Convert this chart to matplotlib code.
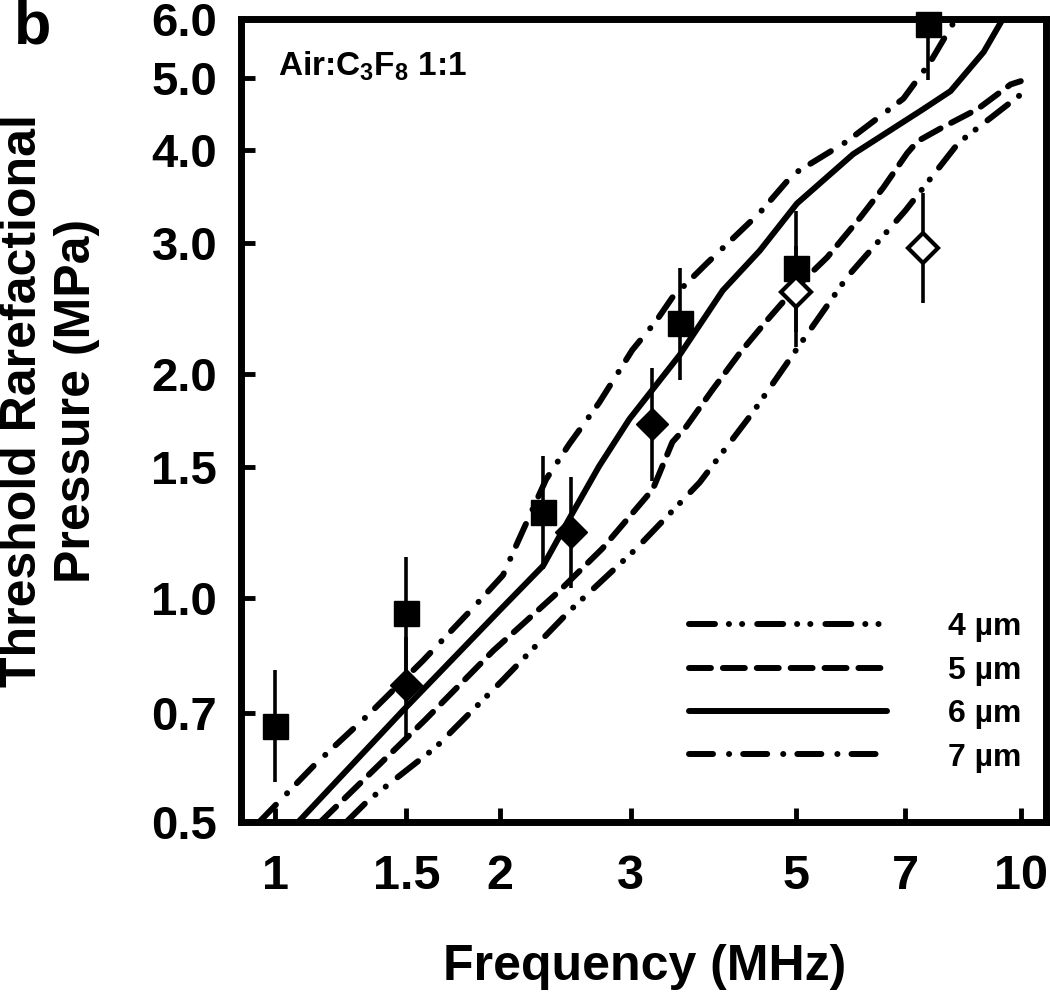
import matplotlib
matplotlib.use("Agg")
import matplotlib.pyplot as plt
from matplotlib.ticker import NullLocator

# --- dados ---
# curvas teóricas (diâmetro da bolha)
freq_4um = [1.246, 1.334, 1.642, 2.02, 2.48, 3.05, 3.71, 4.37, 5.03, 5.85, 7.00, 8.25, 10.0]
p_4um = [0.50, 0.535, 0.630, 0.776, 0.96, 1.165, 1.43, 1.775, 2.175, 2.70, 3.315, 4.09, 4.75]

freq_5um = [1.15, 1.592, 1.96, 2.40, 2.746, 3.21, 3.41, 3.56, 3.86, 4.20, 4.565, 4.95,
            5.50, 6.09, 6.54, 7.04, 7.27, 7.85, 8.75, 9.69, 10.0]
p_5um = [0.50, 0.687, 0.849, 1.02, 1.165, 1.40, 1.62, 1.70, 1.905, 2.135, 2.36, 2.59,
         2.87, 3.245, 3.56, 3.96, 4.11, 4.29, 4.54, 4.90, 4.95]

freq_6um = [1.074, 1.482, 1.995, 2.288, 2.48, 2.72, 2.987, 3.486, 3.984, 4.467, 5.01,
            5.96, 7.40, 8.05, 8.92, 9.46]
p_6um = [0.50, 0.705, 0.96, 1.105, 1.278, 1.504, 1.74, 2.12, 2.59, 2.93, 3.39,
         3.95, 4.54, 4.80, 5.42, 6.0]

freq_7um = [0.952, 1.132, 1.334, 1.577, 1.841, 2.021, 2.124, 2.31, 2.48, 2.72, 3.014,
            3.247, 3.41, 3.79, 4.467, 4.95, 5.85, 6.96, 7.56, 8.18]
p_7um = [0.50, 0.598, 0.697, 0.823, 0.969, 1.073, 1.20, 1.445, 1.61, 1.83, 2.155,
         2.36, 2.535, 2.815, 3.295, 3.71, 4.11, 4.69, 5.25, 6.0]

# pontos experimentais
sq_f = [1.0, 1.5, 2.29, 3.49, 5.0, 7.5]
sq_p = [0.674, 0.954, 1.305, 2.34, 2.78, 5.91]
sq_lo = [0.108, 0.18, 0.21, 0.375, 0.5, 0.94]
sq_hi = [0.126, 0.18, 0.245, 0.44, 0.53, 0.94]

fd_f = [1.5, 2.495, 3.20]
fd_p = [0.765, 1.227, 1.711]
fd_lo = [0.122, 0.197, 0.276]
fd_hi = [0.122, 0.227, 0.329]

od_f = [5.0, 7.40]
od_p = [2.576, 2.958]
od_lo = [0.40, 0.468]
od_hi = [0.40, 0.542]

x_ticks = [1, 1.5, 2, 3, 5, 7, 10]
x_labels = ["1", "1.5", "2", "3", "5", "7", "10"]
y_ticks = [0.5, 0.7, 1.0, 1.5, 2.0, 3.0, 4.0, 5.0, 6.0]
y_labels = ["0.5", "0.7", "1.0", "1.5", "2.0", "3.0", "4.0", "5.0", "6.0"]

# --- estilo ---
plt.rcParams['font.family'] = ['Liberation Sans', 'DejaVu Sans']
plt.rcParams['font.weight'] = 'bold'
plt.rcParams['lines.scale_dashes'] = False
plt.rcParams['mathtext.fontset'] = 'custom'
plt.rcParams['mathtext.rm'] = 'Liberation Sans:bold'
plt.rcParams['mathtext.it'] = 'Liberation Sans:bold'
plt.rcParams['mathtext.default'] = 'rm'

fig = plt.figure(figsize=(10.5, 9.94), dpi=100)
ax = fig.add_axes([0.2295, 0.1730, 0.9962 - 0.2295, 0.9809 - 0.1730])
ax.set_xscale('log')
ax.set_yscale('log')

LW = 4.3
ax.plot(freq_4um, p_4um, color='k', lw=LW, dashes=(18.7, 10, 0.1, 9.4, 0.1, 10.8),
        dash_capstyle='round', label=u"4 \u00b5m")
ax.plot(freq_5um, p_5um, color='k', lw=LW, dashes=(15.8, 8.6),
        dash_capstyle='round', label=u"5 \u00b5m")
ax.plot(freq_6um, p_6um, color='k', lw=LW, solid_capstyle='round', label=u"6 \u00b5m")
ax.plot(freq_7um, p_7um, color='k', lw=LW, dashes=(17.3, 11.5, 0.1, 10.1),
        dash_capstyle='round', label=u"7 \u00b5m")

# barras de erro
for f, p, lo, hi in [(sq_f, sq_p, sq_lo, sq_hi), (fd_f, fd_p, fd_lo, fd_hi),
                     (od_f, od_p, od_lo, od_hi)]:
    ax.errorbar(f, p, yerr=[lo, hi], fmt='none', ecolor='k', elinewidth=2.6,
                capsize=0, zorder=3)

ax.plot(sq_f, sq_p, ls='none', marker='s', ms=18, color='k', zorder=4, clip_on=False)
ax.plot(fd_f, fd_p, ls='none', marker='D', ms=16.5, color='k', zorder=4, clip_on=False)
ax.plot(od_f, od_p, ls='none', marker='D', ms=15.5, mfc='white', mec='k', mew=3,
        zorder=4, clip_on=False)

ax.set_xlim(0.900, 10.81)
ax.set_ylim(0.5, 6.0)
ax.set_xticks(x_ticks, x_labels)
ax.set_yticks(y_ticks, y_labels)
ax.xaxis.set_minor_locator(NullLocator())
ax.yaxis.set_minor_locator(NullLocator())
ax.tick_params(axis='x', direction='in', length=10, width=3.5, pad=23,
               labelsize=35, top=False)
ax.tick_params(axis='y', direction='in', length=10, width=3.5, pad=17,
               labelsize=34, right=False)
for s in ax.spines.values():
    s.set_linewidth(5)

leg = ax.legend(loc='center', bbox_to_anchor=(0.763, 0.1613), frameon=False,
                prop={'size': 23, 'weight': 'bold'}, handlelength=6.2,
                handletextpad=1.9, labelspacing=0.42, borderpad=0, borderaxespad=0)

fig.text(645 / 1050, 1 - 980 / 994, "Frequency (MHz)", ha='center', va='baseline',
         fontsize=36, fontweight='bold')
fig.text(50 / 1050, 1 - 401 / 994, "Threshold Rarefactional\nPressure (MPa)",
         rotation=90, ha='center', va='center', multialignment='center',
         fontsize=36, fontweight='bold', linespacing=1.2)
fig.text(14 / 1050, 1 - 43 / 994, "b", fontsize=44, fontweight='bold', va='baseline')
fig.text(278 / 1050, 1 - 76 / 994, r"Air:C$_3$F$_8$ 1:1", fontsize=24,
         fontweight='bold', va='baseline', ha='left')

fig.savefig("out.png", dpi=100)
